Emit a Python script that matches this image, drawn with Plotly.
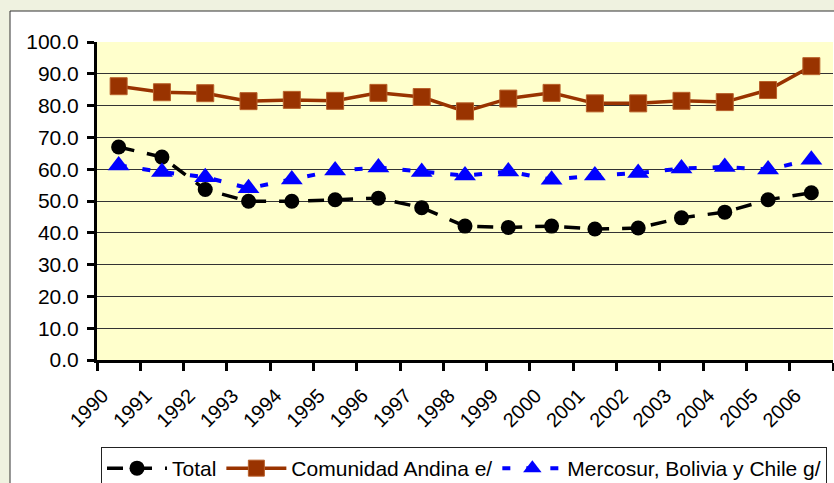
import plotly.graph_objects as go

years = [str(y) for y in range(1990, 2007)]
total = [67.0, 63.8, 53.6, 49.9, 49.9, 50.4, 50.9, 47.9, 42.1, 41.7, 42.1, 41.2, 41.5, 44.7, 46.5, 50.4, 52.6]
andina = [86.1, 84.2, 83.9, 81.4, 81.8, 81.5, 84.0, 82.7, 78.2, 82.2, 84.0, 80.7, 80.7, 81.5, 81.1, 84.9, 92.4]
mercosur = [61.2, 59.1, 57.5, 54.0, 56.8, 59.6, 60.5, 59.1, 58.0, 59.3, 56.7, 58.0, 58.8, 60.2, 60.7, 59.9, 63.0]

y_ticks = [0, 10, 20, 30, 40, 50, 60, 70, 80, 90, 100]

W, H = 834, 483
L, R, T, B = 97, 833, 42, 360
pw, ph = R - L, B - T

def px_x(x):
    return (x - L) / pw

def px_y(y):
    return (B - y) / ph

FONT = "Liberation Sans, Arial, sans-serif"
BG = "#EFF2E0"

fig = go.Figure()
fig.add_trace(go.Scatter(
    x=years, y=total, name="Total", mode="lines+markers",
    line=dict(color="black", width=3.5, dash="16px,13px"),
    marker=dict(symbol="circle", size=15, color="black"),
))
fig.add_trace(go.Scatter(
    x=years, y=andina, name="Comunidad Andina e/", mode="lines+markers",
    line=dict(color="#993300", width=3.5),
    marker=dict(symbol="square", size=17, color="#993300", line=dict(color="#B8602A", width=1)),
))
fig.add_trace(go.Scatter(
    x=years, y=mercosur, name="Mercosur, Bolivia y Chile g/", mode="lines+markers",
    line=dict(color="#0000FF", width=4, dash="8px,16px"),
    marker=dict(symbol="triangle-up", size=19, color="#0000FF"),
))

fig.update_layout(
    width=W, height=H,
    margin=dict(l=L, r=W - R, t=T, b=H - B, pad=0, autoexpand=False),
    paper_bgcolor=BG,
    plot_bgcolor="#FFFFCC",
    font=dict(family=FONT, size=20, color="black"),
    showlegend=True,
    legend=dict(
        orientation="h", x=px_x(101), xanchor="left", y=px_y(447), yanchor="top",
        bgcolor="white", bordercolor="#222222", borderwidth=1,
        font=dict(family=FONT, size=21, color="black"),
        itemwidth=60, traceorder="normal",
    ),
    shapes=[
        dict(type="rect", xref="paper", yref="paper", layer="below",
             x0=px_x(10), x1=px_x(W + 20), y0=px_y(H + 20), y1=px_y(11),
             fillcolor="white", line=dict(color="#333333", width=1)),
        dict(type="rect", xref="paper", yref="paper", layer="below",
             x0=0, x1=1, y0=0, y1=1,
             fillcolor="#FFFFCC", line=dict(width=0)),
    ],
)

fig.update_xaxes(
    type="category", categoryorder="array", categoryarray=years,
    range=[-0.5, len(years) - 0.5], automargin=False,
    tickson="boundaries", ticks="outside", ticklen=8, tickwidth=3, tickcolor="black",
    showline=True, linewidth=3, linecolor="black",
    showgrid=False, tickangle=-45,
    tickfont=dict(family=FONT, size=20, color="black"),
    ticklabelshift=-16, ticklabelstandoff=13,
)
fig.update_yaxes(
    range=[0, 100], tickvals=y_ticks, tickformat=".1f", automargin=False,
    ticks="outside", ticklen=7, tickwidth=3, tickcolor="black",
    showline=True, linewidth=3, linecolor="black",
    showgrid=True, gridcolor="#333333", gridwidth=1, zeroline=False,
    tickfont=dict(family=FONT, size=21, color="black"),
    ticklabelstandoff=4,
)

fig.write_html(
    "out.html",
    config={"displayModeBar": False},
    post_script="document.body.style.margin='0';document.body.style.padding='0';"
                "document.body.style.overflow='hidden';document.body.style.background='" + BG + "';",
)
